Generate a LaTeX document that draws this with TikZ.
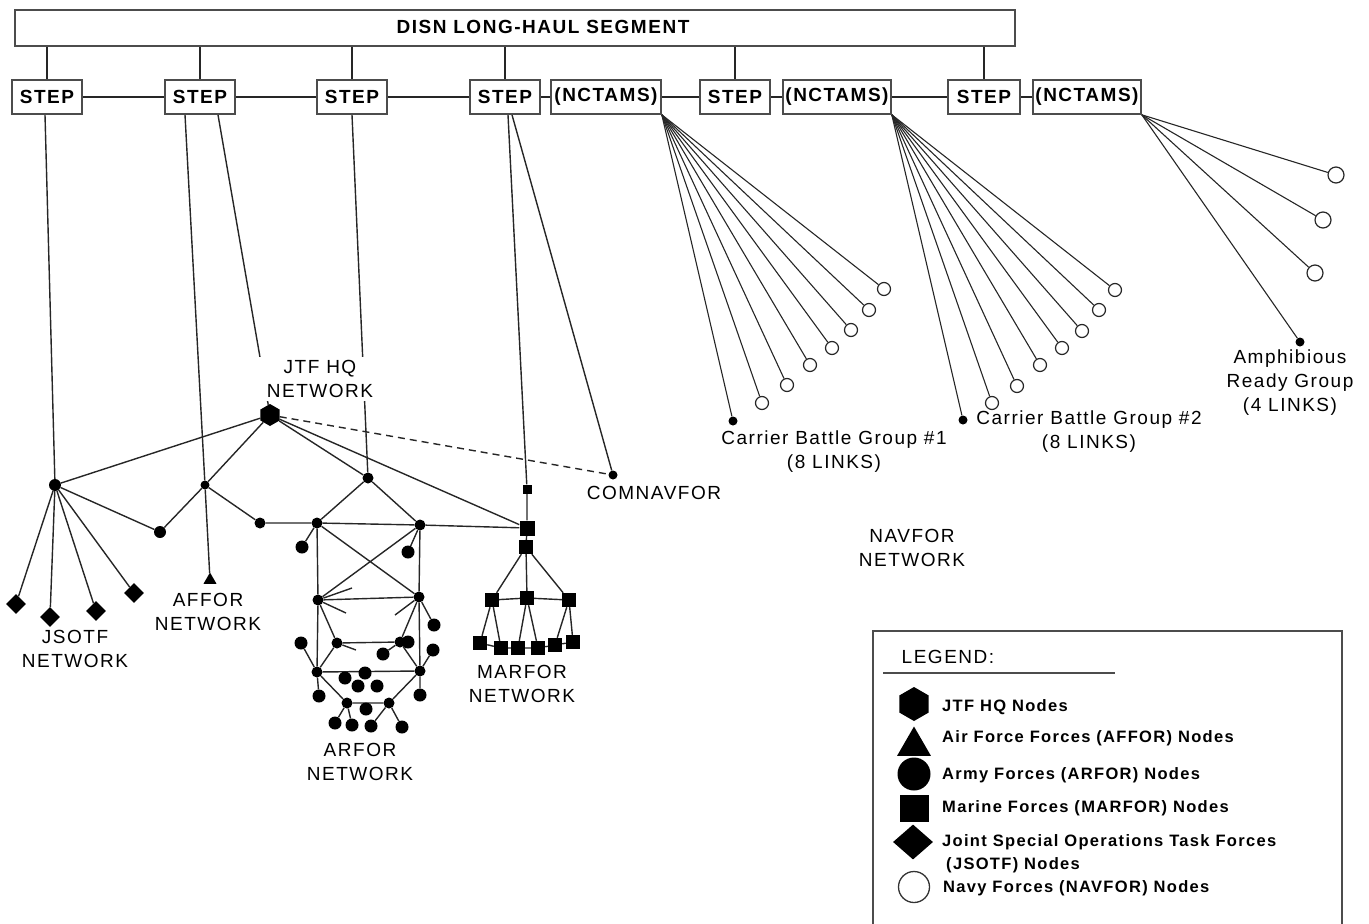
\documentclass[tikz,border=0pt]{standalone}
\usepackage{fontspec}
\usetikzlibrary{shapes.geometric}
\newfontfamily\lsans[LetterSpace=8]{Liberation Sans}
\newcommand\lblfont{\lsans\fontsize{19}{24}\selectfont}
\newcommand\boxfont{\lsans\bfseries\fontsize{19}{23}\selectfont}
\newcommand\legfont{\lsans\bfseries\fontsize{16.5}{21}\selectfont}
\pgfdeclarelayer{edges}
\pgfsetlayers{edges,main}
\begin{document}
\begin{tikzpicture}[x=1pt,y=-1pt,
  link/.style={draw=black!85, line width=1.4pt},
  fanlink/.style={draw=black!85, line width=1.1pt},
  dashlink/.style={link, dash pattern=on 7pt off 5pt},
  bus/.style={draw=black!70, line width=1.6pt},
  stepbox/.style={bus, fill=white, inner sep=0pt, minimum width=70, minimum height=34, font=\boxfont},
  ncbox/.style={stepbox, minimum width=110},
  lbl/.style={font=\lblfont, align=center, inner sep=1pt},
  hexn/.style={regular polygon, regular polygon sides=6, shape border rotate=30, fill=black, inner sep=0pt, minimum size=22},
  dot/.style={circle, fill=black, inner sep=0pt, minimum size=11},
  hub/.style={dot, minimum size=9},
  leaf/.style={dot, minimum size=13},
  msq/.style={rectangle, fill=black, inner sep=0pt, minimum size=14},
  jdia/.style={diamond, fill=black, inner sep=0pt, minimum width=20, minimum height=20},
  tri/.style={regular polygon, regular polygon sides=3, fill=black, inner sep=0pt, minimum size=15},
  ring/.style={circle, draw=black!85, line width=1.2pt, fill=white, inner sep=0pt, minimum size=13},
  bigring/.style={ring, minimum size=16},
  legtxt/.style={font=\legfont, anchor=west, inner sep=0pt}
]
\useasboundingbox (0,0) rectangle (1369,924);

% ---------------- backbone and access tier ----------------
\node[bus, minimum width=1000, minimum height=36, inner sep=0pt] (bar) at (515,28) {};
\node[font=\boxfont] (bartxt) at (543,27) {DISN LONG-HAUL SEGMENT};

\node[stepbox] (s1) at (47,97) {STEP};
\node[stepbox] (s2) at (200,97) {STEP};
\node[stepbox] (s3) at (352,97) {STEP};
\node[stepbox] (s4) at (505,97) {STEP};
\node[ncbox] (n1) at (606,97) {(NCTAMS)};
\node[stepbox] (s5) at (735,97) {STEP};
\node[ncbox, minimum width=108] (n2) at (837,97) {(NCTAMS)};
\node[stepbox, minimum width=72] (s6) at (984,97) {STEP};
\node[ncbox, minimum width=108] (n3) at (1087,97) {(NCTAMS)};

% ---------------- JTF HQ / JSOTF / AFFOR ----------------
\node[hexn] (hq) at (270,415) {};
\node[lbl, fill=white, inner xsep=10pt, inner ysep=3pt] (hqlbl) at (320,379) {JTF HQ\\NETWORK};

\node[dot, minimum size=12] (jh) at (55,485) {};
\node[jdia] (j1) at (16,604) {};
\node[jdia] (j2) at (50,617) {};
\node[jdia] (j3) at (96,611) {};
\node[jdia] (j4) at (134,593) {};
\node[lbl] (jlbl) at (75,649) {JSOTF\\NETWORK};

\node[dot, minimum size=12] (c1) at (160,532) {};
\node[hub] (ah) at (205,485) {};
\node[tri] (af) at (210,580) {};
\node[lbl] (aflbl) at (208,612) {AFFOR\\NETWORK};
\node[dot] (r0) at (260,523) {};

% ---------------- ARFOR ----------------
\node[dot] (a0) at (368,478) {};
\node[dot] (a1) at (317,523) {};
\node[dot] (a2) at (420,525) {};
\node[dot] (a3) at (318,600) {};
\node[dot] (a4) at (419,597) {};
\node[dot] (a5) at (337,643) {};
\node[dot] (a6) at (400,642) {};
\node[dot] (a7) at (317,672) {};
\node[dot] (a8) at (420,671) {};
\node[dot] (a9) at (347,703) {};
\node[dot] (a10) at (389,703) {};
\node[leaf] (b1) at (302,547) {};
\node[leaf] (b2) at (408,552) {};
\node[leaf] (b3) at (434,625) {};
\node[leaf] (b4) at (301,643) {};
\node[leaf] (b5) at (383,654) {};
\node[leaf] (b6) at (433,650) {};
\node[leaf] (b7) at (408,642) {};
\node[leaf] (b8) at (345,678) {};
\node[leaf] (b9) at (365,673) {};
\node[leaf] (b10) at (358,686) {};
\node[leaf] (b11) at (377,686) {};
\node[leaf] (b12) at (319,696) {};
\node[leaf] (b13) at (420,695) {};
\node[leaf] (b14) at (366,709) {};
\node[leaf] (b15) at (335,723) {};
\node[leaf] (b16) at (352,725) {};
\node[leaf] (b17) at (371,726) {};
\node[leaf] (b18) at (402,727) {};
\coordinate (st1) at (352,588);
\coordinate (st2) at (346,613);
\coordinate (st3) at (395,615);
\coordinate (st4) at (356,650);
\node[lbl] (arlbl) at (360,762) {ARFOR\\NETWORK};

% ---------------- MARFOR ----------------
\node[msq, minimum size=9] (m0) at (527,489) {};
\node[msq, minimum size=15] (m1) at (527,528) {};
\node[msq] (m2) at (526,547) {};
\node[msq] (m3) at (492,600) {};
\node[msq] (m4) at (527,598) {};
\node[msq] (m5) at (569,600) {};
\node[msq] (q1) at (480,643) {};
\node[msq] (q2) at (501,648) {};
\node[msq] (q3) at (518,648) {};
\node[msq] (q4) at (538,648) {};
\node[msq] (q5) at (555,645) {};
\node[msq] (q6) at (573,642) {};
\node[lbl] (mlbl) at (522,684) {MARFOR\\NETWORK};

% ---------------- NAVFOR ----------------
\node[hub] (cn) at (613,475) {};
\node[lbl] (cnlbl) at (654,493) {COMNAVFOR};

\node[hub] (g0) at (733,421) {};
\node[ring] (g1) at (762,403) {};
\node[ring] (g2) at (787,385) {};
\node[ring] (g3) at (810,365) {};
\node[ring] (g4) at (832,348) {};
\node[ring] (g5) at (851,330) {};
\node[ring] (g6) at (869,310) {};
\node[ring] (g7) at (884,289) {};
\node[lbl] (g1lbl) at (834,452) {Carrier Battle Group \#1\\(8 LINKS)};

\node[hub] (h0) at (963,420) {};
\node[ring] (h1) at (992,403) {};
\node[ring] (h2) at (1017,386) {};
\node[ring] (h3) at (1040,365) {};
\node[ring] (h4) at (1062,348) {};
\node[ring] (h5) at (1082,331) {};
\node[ring] (h6) at (1099,310) {};
\node[ring] (h7) at (1115,290) {};
\node[lbl] (g2lbl) at (1089,432) {Carrier Battle Group \#2\\(8 LINKS)};

\node[bigring] (k1) at (1336,175) {};
\node[bigring] (k2) at (1323,220) {};
\node[bigring] (k3) at (1315,273) {};
\node[hub] (k0) at (1300,342) {};
\node[lbl] (klbl) at (1290,383) {Amphibious\\Ready Group\\(4 LINKS)};

\node[lbl] (nvlbl) at (912,548) {NAVFOR\\NETWORK};

% ---------------- legend ----------------
\draw[bus] (873,935) -- (873,631) -- (1342,631) -- (1342,935);
\node[font=\lblfont, inner sep=0pt] (legt) at (948,657) {LEGEND:};
\draw[bus, line width=1.3pt] (883,673) -- (1115,673);
\node[hexn, minimum size=34] (lg1) at (914,704) {};
\node[tri, minimum size=39] (lg2) at (914,746) {};
\node[circle, fill=black, inner sep=0pt, minimum size=33] (lg3) at (914,774) {};
\node[msq, minimum width=29, minimum height=27] (lg4) at (914,808) {};
\node[diamond, fill=black, inner sep=0pt, minimum width=40, minimum height=35] (lg5) at (913,842) {};
\node[circle, draw=black!80, line width=1.3pt, inner sep=0pt, minimum size=31] (lg6) at (914,887) {};
\node[legtxt] (lt1) at (942,707) {JTF HQ Nodes};
\node[legtxt] (lt2) at (942,738) {Air Force Forces (AFFOR) Nodes};
\node[legtxt] (lt3) at (942,775) {Army Forces (ARFOR) Nodes};
\node[legtxt] (lt4) at (942,808) {Marine Forces (MARFOR) Nodes};
\node[legtxt] (lt5) at (942,842) {Joint Special Operations Task Forces};
\node[legtxt] (lt6) at (946,865) {(JSOTF) Nodes};
\node[legtxt] (lt7) at (943,888) {Navy Forces (NAVFOR) Nodes};

% ---------------- connectors ----------------
\begin{pgfonlayer}{edges}
\foreach \s in {s1,s2,s3,s4,s5,s6} \draw[link] (bar.south -| \s.north) -- (\s.north);
\draw[link] (s1) -- (s2) -- (s3) -- (s4) -- (n1) -- (s5) -- (n2) -- (s6) -- (n3);

% STEP down-links
\draw[link] ([xshift=-2pt]s1.south) -- (jh);
\draw[link] ([xshift=-15pt]s2.south) -- (ah) -- (af);
\draw[link] ([xshift=18pt]s2.south) -- (hq);
\draw[link] (s3.south) -- (a0);
\draw[link] ([xshift=3pt]s4.south) -- (m0);
\draw[link] ([xshift=7pt]s4.south) -- (cn);

% JSOTF and AFFOR
\foreach \j in {j1,j2,j3,j4} \draw[link] (jh) -- (\j);
\draw[link] (jh) -- (hq);
\draw[link] (jh) -- (c1) -- (ah);
\draw[link] (ah) -- (hq);
\draw[link] (ah) -- (r0);
\draw[link] (r0) -- (a1) -- (a2) -- (m1);

% JTF HQ
\draw[link] (hq) -- (a0);
\draw[link] (hq) -- (m1);
\draw[dashlink] (hq) -- (cn);

% ARFOR mesh
\draw[link] (a1) -- (a0) -- (a2);
\draw[link] (a1) -- (a3) (a2) -- (a4) (a1) -- (a4) (a2) -- (a3) (a3) -- (a4);
\draw[link] (a3) -- (a5) (a4) -- (a6) (a5) -- (a6);
\draw[link] (a3) -- (a7) (a4) -- (a8) (a5) -- (a7) (a6) -- (a8) (a7) -- (a8);
\draw[link] (a7) -- (a9) (a8) -- (a10) (a9) -- (a10);
\draw[link] (a1) -- (b1) (a2) -- (b2) (a4) -- (b3) (b4) -- (a7) (a6) -- (b5) (a8) -- (b6);
\draw[link] (a7) -- (b12) (a8) -- (b13) (a9) -- (b15) (a9) -- (b16) (a10) -- (b17) (a10) -- (b18);
\draw[link] (a3) -- (st1) (a3) -- (st2) (a4) -- (st3) (a5) -- (st4);

% MARFOR tree
\draw[link] (m0) -- (m1) -- (m2);
\draw[link] (m2) -- (m3) (m2) -- (m4) (m2) -- (m5) (m3) -- (m4) -- (m5);
\draw[link] (m3) -- (q1) (m3) -- (q2) (m4) -- (q3) (m4) -- (q4) (m5) -- (q5) (m5) -- (q6);
\draw[link] (q1) -- (q2) -- (q3) -- (q4) -- (q5) -- (q6);

% NCTAMS fans
\foreach \t in {g0,g1,g2,g3,g4,g5,g6,g7} \draw[fanlink] (n1.south east) -- (\t);
\foreach \t in {h0,h1,h2,h3,h4,h5,h6,h7} \draw[fanlink] (n2.south east) -- (\t);
\foreach \t in {k0,k1,k2,k3} \draw[fanlink] (n3.south east) -- (\t);
\end{pgfonlayer}
\end{tikzpicture}
\end{document}
